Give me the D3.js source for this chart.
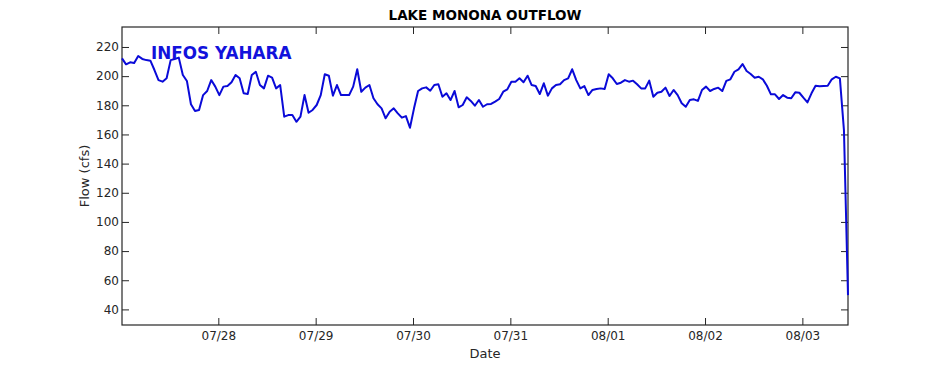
<!DOCTYPE html>
<html>
<head>
<meta charset="utf-8">
<script src="https://cdn.jsdelivr.net/npm/d3@7"></script>
<style>
  html, body { margin: 0; padding: 0; background: #fff; }
  svg { display: block; }
  text { font-family: "DejaVu Sans", sans-serif; }
</style>
</head>
<body>
<svg id="chart" width="938" height="365"></svg>
<script>
// ---- data ----
const title = "LAKE MONONA OUTFLOW";
const watermark = "INFOS YAHARA";
const xLabel = "Date";
const yLabel = "Flow (cfs)";
const startTime = "2023-07-27T00:15:00Z";   // first reading, hourly thereafter
const flow = [
  212.2, 208.1, 209.5, 209.0, 213.8, 211.8, 211.0, 210.6, 204.2, 197.3,
  196.2, 198.5, 211.0, 211.8, 212.7, 200.8, 196.7, 180.7, 176.1, 176.8,
  187.0, 189.8, 197.3, 192.8, 187.0, 192.8, 193.2, 195.8, 200.8, 198.5,
  188.2, 187.7, 200.8, 203.0, 193.9, 191.6, 200.3, 199.0, 191.6, 193.9,
  172.2, 173.3, 173.3, 168.7, 172.2, 187.0, 174.9, 176.8, 180.2, 187.0,
  201.3, 200.3, 186.6, 193.9, 187.0, 187.0, 187.0, 192.8, 204.7, 189.3,
  192.1, 193.9, 184.8, 180.7, 177.9, 171.1, 175.6, 177.9, 174.5, 171.5,
  172.6, 164.6, 177.9, 189.8, 191.6, 192.3, 190.0, 193.9, 194.4, 185.9,
  188.2, 183.6, 189.8, 178.6, 180.2, 185.5, 183.0, 179.7, 183.6, 179.0,
  180.7, 180.9, 182.5, 184.3, 189.3, 190.9, 196.2, 196.2, 198.5, 195.8,
  200.3, 193.9, 193.2, 187.7, 195.1, 186.6, 191.6, 193.9, 194.4, 197.3,
  198.5, 204.7, 197.3, 191.6, 193.2, 187.0, 190.5, 191.2, 191.6, 191.2,
  201.3, 198.5, 194.6, 195.5, 197.3, 196.2, 196.9, 194.4, 191.6, 191.6,
  196.9, 185.9, 188.6, 189.3, 192.1, 186.4, 190.5, 187.0, 181.4, 179.0,
  183.6, 184.1, 183.0, 190.5, 192.8, 189.8, 191.2, 192.1, 189.8, 196.7,
  197.8, 203.0, 204.7, 208.3, 203.5, 201.5, 198.9, 199.6, 197.8, 193.4,
  187.5, 187.5, 184.3, 187.0, 185.2, 184.8, 188.9, 188.6, 185.2, 182.0,
  188.2, 193.4, 193.0, 193.2, 193.4, 197.8, 199.6, 198.5, 163.0, 49.8
];
const yTicks = [40, 60, 80, 100, 120, 140, 160, 180, 200, 220];
const yDomain = [29.3, 233.7];

// ---- layout ----
const W = 938, H = 365;
const m = { left: 122, right: 938 - 848, top: 27, bottom: 365 - 325 };
const iw = W - m.left - m.right, ih = H - m.top - m.bottom;
const axisColor = "#262626";
const lineColor = "#0a0ad8";

const t0 = new Date(startTime);
const data = flow.map((v, i) => ({ t: d3.utcHour.offset(t0, i), v }));

const svg = d3.select("#chart");
const g = svg.append("g").attr("transform", `translate(${m.left},${m.top})`);

const x = d3.scaleUtc().domain(d3.extent(data, d => d.t)).range([0, iw]);
const y = d3.scaleLinear().domain(yDomain).range([ih, 0]);

const xTickVals = d3.utcDay.range(d3.utcDay.ceil(x.domain()[0]), x.domain()[1]);
const fmt = d3.utcFormat("%m/%d");

// axes (ticks pointing inward)
const styleAxis = sel => {
  sel.select(".domain").remove();
  sel.selectAll("line").attr("stroke", axisColor).attr("stroke-width", 1);
  sel.selectAll("text").attr("fill", axisColor).style("font-size", "12px")
     .style("font-family", "'DejaVu Sans', sans-serif");
};

g.append("g").attr("transform", `translate(0,${ih})`)
  .call(d3.axisBottom(x).tickValues(xTickVals).tickFormat(fmt).tickSizeInner(-7).tickPadding(6))
  .call(styleAxis);
g.append("g")
  .call(d3.axisTop(x).tickValues(xTickVals).tickFormat("").tickSizeInner(-7))
  .call(styleAxis);
g.append("g")
  .call(d3.axisLeft(y).tickValues(yTicks).tickSizeInner(-7).tickPadding(3))
  .call(styleAxis);
g.append("g").attr("transform", `translate(${iw},0)`)
  .call(d3.axisRight(y).tickValues(yTicks).tickFormat("").tickSizeInner(-7))
  .call(styleAxis);

// box
g.append("rect").attr("x", 0).attr("y", 0).attr("width", iw).attr("height", ih)
  .attr("fill", "none").attr("stroke", axisColor).attr("stroke-width", 1.2);

// line
g.append("path").datum(data)
  .attr("fill", "none").attr("stroke", lineColor).attr("stroke-width", 2)
  .attr("stroke-linejoin", "round")
  .attr("d", d3.line().x(d => x(d.t)).y(d => y(d.v)));

// watermark
g.append("text").attr("x", 151 - m.left).attr("y", 59 - m.top)
  .attr("fill", "#1212dc").style("font-size", "16.8px").style("font-weight", "bold")
  .text(watermark);

// title
svg.append("text").attr("x", m.left + iw / 2).attr("y", 20).attr("text-anchor", "middle")
  .attr("fill", "#000").style("font-size", "13.5px").style("font-weight", "bold").text(title);

// x label
svg.append("text").attr("x", m.left + iw / 2).attr("y", 358).attr("text-anchor", "middle")
  .attr("fill", axisColor).style("font-size", "13px").text(xLabel);

// y label
svg.append("text").attr("transform", `translate(89,${m.top + ih / 2}) rotate(-90)`)
  .attr("text-anchor", "middle").attr("fill", axisColor).style("font-size", "13px").text(yLabel);
</script>
</body>
</html>
